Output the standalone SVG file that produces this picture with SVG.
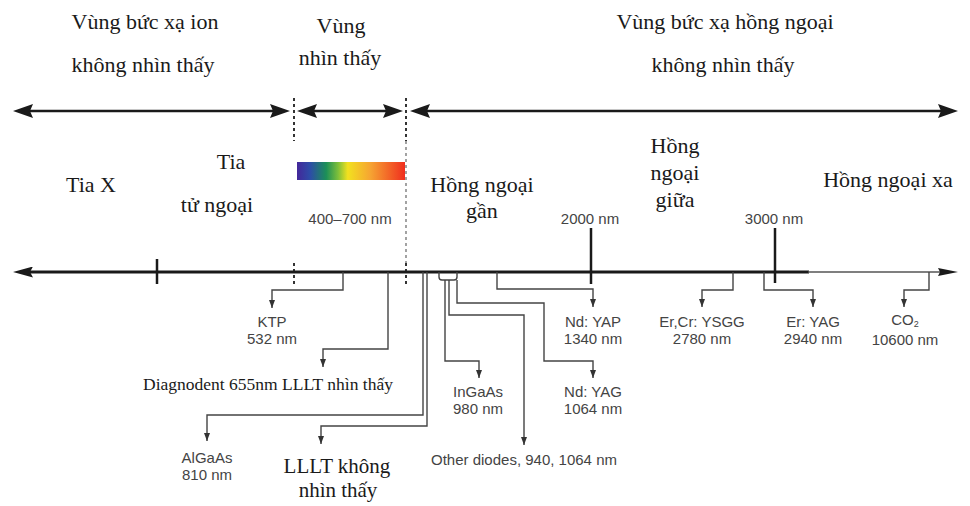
<svg xmlns="http://www.w3.org/2000/svg" width="970" height="506" viewBox="0 0 970 506">
<defs>
<linearGradient id="spec" x1="0" y1="0" x2="1" y2="0">
<stop offset="0" stop-color="#44279a"/>
<stop offset="0.12" stop-color="#2d4ca8"/>
<stop offset="0.27" stop-color="#1c8f58"/>
<stop offset="0.38" stop-color="#7dbf3a"/>
<stop offset="0.47" stop-color="#f2e11f"/>
<stop offset="0.68" stop-color="#f6a432"/>
<stop offset="1" stop-color="#f02e1e"/>
</linearGradient>
<marker id="big" viewBox="0 0 20 14" refX="12" refY="7" markerWidth="20" markerHeight="14" markerUnits="userSpaceOnUse" orient="auto-start-reverse">
<path d="M0,0 L20,7 L0,14 L3,7 Z" fill="#1a1a1a"/>
</marker>
<marker id="axL" viewBox="0 0 20 11" refX="12" refY="5.5" markerWidth="20" markerHeight="11" markerUnits="userSpaceOnUse" orient="auto-start-reverse">
<path d="M0,0 L20,5.5 L0,11 L3,5.5 Z" fill="#1a1a1a"/>
</marker>
<marker id="axR" viewBox="0 0 20 8" refX="14" refY="4" markerWidth="20" markerHeight="8" markerUnits="userSpaceOnUse" orient="auto">
<path d="M0,0 L20,4 L0,8 L2,4 Z" fill="#1a1a1a"/>
</marker>
<marker id="tip" viewBox="0 0 8 6" refX="8" refY="3" markerWidth="8" markerHeight="6" markerUnits="userSpaceOnUse" orient="auto">
<path d="M0,0 L8,3 L0,6 Z" fill="#333"/>
</marker>
</defs>
<style>
.serif{font-family:"Liberation Serif","Times New Roman",serif;fill:#1a1a1a;text-anchor:middle}
.h{font-size:22px}
.sans{font-family:"Liberation Sans",Arial,sans-serif;font-size:15px;fill:#444;text-anchor:middle}
.ar{stroke:#1a1a1a;stroke-width:2.5;fill:none}
.dash{stroke:#333;stroke-width:2;stroke-dasharray:3 3;fill:none}
.dash2{stroke:#666;stroke-width:1.2;stroke-dasharray:3 3;fill:none}
.c{stroke:#444;stroke-width:1.4;fill:none;marker-end:url(#tip)}
.cl{stroke:#444;stroke-width:1.4;fill:none}
.tick{stroke:#1a1a1a;stroke-width:2.5}
</style>

<g id="headers">
<text class="serif h" x="145" y="29">Vùng bức xạ ion</text>
<text class="serif h" x="143" y="72">không nhìn thấy</text>
<text class="serif h" x="341" y="33">Vùng</text>
<text class="serif h" x="340" y="65">nhìn thấy</text>
<text class="serif h" x="725" y="29">Vùng bức xạ hồng ngoại</text>
<text class="serif h" x="723" y="72">không nhìn thấy</text>
</g>

<g id="regions">
<text class="serif h" x="91" y="192">Tia X</text>
<text class="serif h" x="231" y="169">Tia</text>
<text class="serif h" x="217" y="212">tử ngoại</text>
<text class="serif h" x="482" y="192">Hồng ngoại</text>
<text class="serif h" x="482" y="218">gần</text>
<text class="serif h" x="675" y="153">Hồng</text>
<text class="serif h" x="675" y="180">ngoại</text>
<text class="serif h" x="675" y="207">giữa</text>
<text class="serif h" x="888" y="187">Hồng ngoại xa</text>
</g>

<g id="visible">
<rect x="297" y="162" width="108" height="18" fill="url(#spec)"/>
<text class="sans" x="350" y="224">400–700 nm</text>
</g>

<g id="connectors">
<line class="ar" x1="21" y1="111" x2="282" y2="111" marker-start="url(#big)" marker-end="url(#big)"/>
<line class="ar" x1="305" y1="111" x2="395" y2="111" marker-start="url(#big)" marker-end="url(#big)"/>
<line class="ar" x1="418" y1="111" x2="950" y2="111" marker-start="url(#big)" marker-end="url(#big)"/>
<line class="dash" x1="294" y1="98" x2="294" y2="141"/>
<line class="dash" x1="294" y1="263" x2="294" y2="285"/>
<line class="dash" x1="406" y1="98" x2="406" y2="141"/>
<line class="dash2" x1="406" y1="141" x2="406" y2="263"/>
<line class="dash" x1="406" y1="263" x2="406" y2="285"/>

<line x1="21" y1="272" x2="809" y2="272" stroke="#1a1a1a" stroke-width="3" marker-start="url(#axL)"/>
<line x1="808" y1="272" x2="952" y2="272" stroke="#555" stroke-width="1.4" marker-end="url(#axR)"/>

<line class="tick" x1="157" y1="259" x2="157" y2="284"/>
<line class="tick" x1="591" y1="228" x2="591" y2="284"/>
<line class="tick" x1="775" y1="228" x2="775" y2="283"/>

<path class="c" d="M343,272 V290 H272 V308"/>
<path class="c" d="M388,272 V349 H323 V367"/>
<path class="c" d="M423,272 V415 H207 V441"/>
<path class="c" d="M427,272 V426 H321 V444"/>
<path class="cl" d="M439,272 V277 Q439,280 442,280 H454 Q457,280 457,277 V272"/>
<path class="c" d="M445,280 V361 H479 V378"/>
<path class="c" d="M449,280 V315 H524 V445"/>
<path class="c" d="M457,280 V303 H544 V361 H593 V378"/>
<path class="c" d="M497,272 V289 H593 V307"/>
<path class="c" d="M733,272 V290 H702 V307"/>
<path class="c" d="M764,272 V290 H813 V307"/>
<path class="c" d="M929,272 V290 H904 V307"/>
</g>

<g id="marks">
<text class="sans" x="590" y="224">2000 nm</text>
<text class="sans" x="774" y="224">3000 nm</text>
</g>

<g id="ktp"><text class="sans" x="272" y="327">KTP</text><text class="sans" x="272" y="344">532 nm</text></g>
<g id="diagnodent"><text class="serif" font-size="17.5" x="268" y="390">Diagnodent 655nm LLLT nhìn thấy</text></g>
<g id="algaas"><text class="sans" x="207" y="463">AlGaAs</text><text class="sans" x="207" y="480">810 nm</text></g>
<g id="lllt"><text class="serif" font-size="21" x="337" y="473">LLLT không</text><text class="serif" font-size="21" x="338" y="497">nhìn thấy</text></g>
<g id="ingaas"><text class="sans" x="478" y="397">InGaAs</text><text class="sans" x="478" y="414">980 nm</text></g>
<g id="other"><text class="sans" x="524" y="465">Other diodes, 940, 1064 nm</text></g>
<g id="ndyag"><text class="sans" x="593" y="397">Nd: YAG</text><text class="sans" x="593" y="414">1064 nm</text></g>
<g id="ndyap"><text class="sans" x="593" y="327">Nd: YAP</text><text class="sans" x="593" y="344">1340 nm</text></g>
<g id="ercr"><text class="sans" x="702" y="327">Er,Cr: YSGG</text><text class="sans" x="702" y="344">2780 nm</text></g>
<g id="eryag"><text class="sans" x="813" y="327">Er: YAG</text><text class="sans" x="813" y="344">2940 nm</text></g>
<g id="co2"><text class="sans" x="905" y="325">CO<tspan font-size="9" dy="2">2</tspan></text><text class="sans" x="905" y="345">10600 nm</text></g>
</svg>
